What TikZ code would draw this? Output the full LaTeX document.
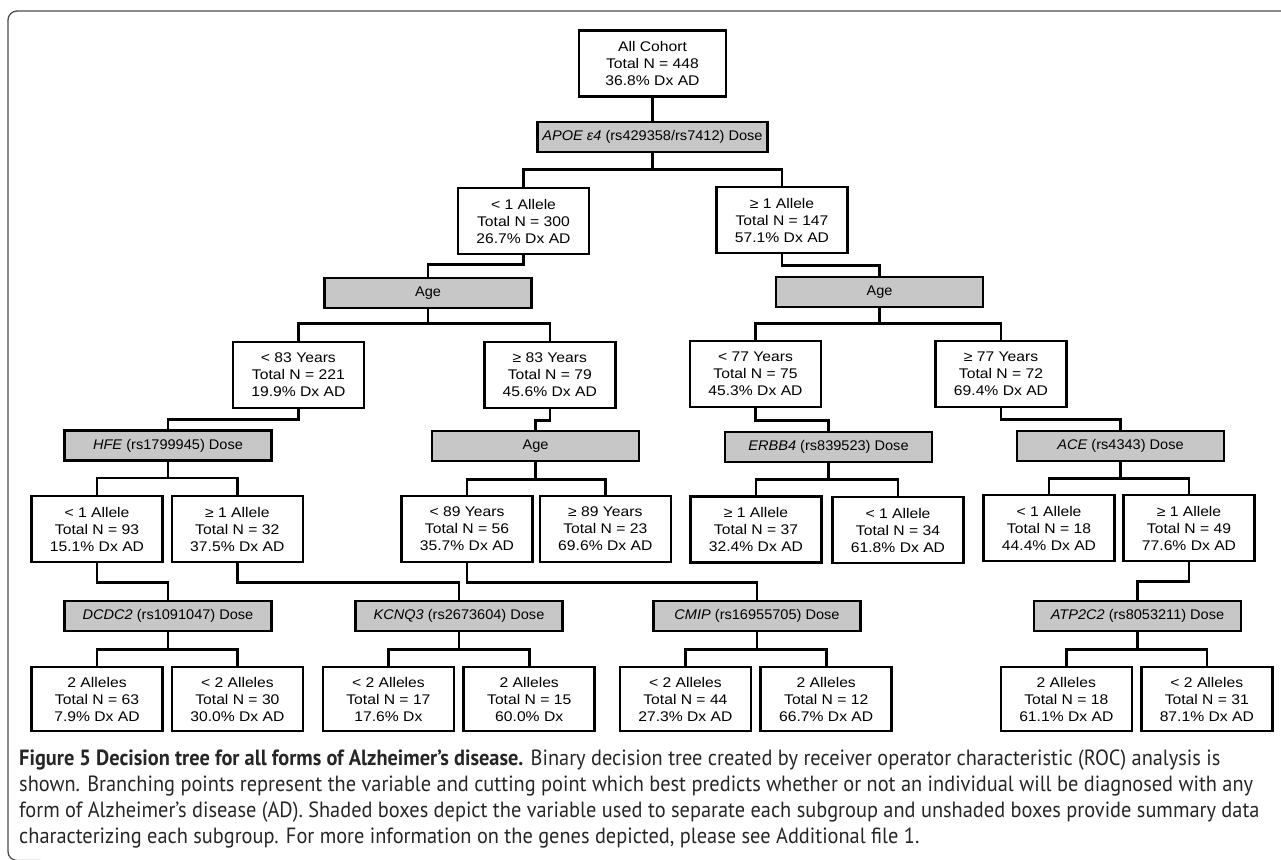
\documentclass[tikz,border=0pt]{standalone}
\usepackage{fontspec}
\setmainfont{Liberation Sans}
\newfontfamily\boxfont[FakeStretch=1.12]{Liberation Sans}
\newfontfamily\splitfont[FakeStretch=1.04]{Liberation Sans}
\newfontfamily\capfont[FakeStretch=0.925]{PT Sans}
\usetikzlibrary{positioning}

\begin{document}
\begin{tikzpicture}[x=1pt, y=-1pt,
  data/.style={draw, line width=2.6pt, minimum width=131pt, minimum height=66pt, inner sep=0pt, align=center, font={\boxfont\fontsize{14}{17}\selectfont}},
  split/.style={draw, line width=2.6pt, fill=black!22, minimum width=207pt, minimum height=30pt, inner sep=0pt, align=center, font={\splitfont\fontsize{14}{16}\selectfont}},
  link/.style={line width=2.6pt}]
  \useasboundingbox (0,0) rectangle (1281,859);
  \draw[line width=1.3pt, black!70, rounded corners=9pt] (1290,11) -- (8,11) -- (8,860.5) -- (40,860.5);

  \node[data, minimum width=147pt] (all)  at (652.5,63.5) {All Cohort\\Total N = 448\\36.8\% Dx AD};
  \node[split, minimum width=230pt] (apoe) at (652.5,137) {\textit{APOE ε4} (rs429358/rs7412) Dose};
  \node[data] (apoe lt) at (523.5,221) {< 1 Allele\\Total N = 300\\26.7\% Dx AD};
  \node[data] (apoe ge) at (782,220)   {≥ 1 Allele\\Total N = 147\\57.1\% Dx AD};

  \node[split] (age lt) at (428,293)   {Age};
  \node[split] (age ge) at (879.5,292) {Age};
  \node[data] (lt83) at (298.4,375) {< 83 Years\\Total N = 221\\19.9\% Dx AD};
  \node[data] (ge83) at (549.8,375) {≥ 83 Years\\Total N = 79\\45.6\% Dx AD};
  \node[data] (lt77) at (755.5,374) {< 77 Years\\Total N = 75\\45.3\% Dx AD};
  \node[data] (ge77) at (1001,374)  {≥ 77 Years\\Total N = 72\\69.4\% Dx AD};

  \node[split] (hfe)     at (168,445.5)  {\textit{HFE} (rs1799945) Dose};
  \node[split] (age old) at (535.5,446)  {Age};
  \node[split] (erbb4)   at (828.5,447)  {\textit{ERBB4} (rs839523) Dose};
  \node[split] (ace)     at (1120.5,446) {\textit{ACE} (rs4343) Dose};
  \node[data] (hfe lt)   at (97,529)    {< 1 Allele\\Total N = 93\\15.1\% Dx AD};
  \node[data] (hfe ge)   at (237.3,529) {≥ 1 Allele\\Total N = 32\\37.5\% Dx AD};
  \node[data] (lt89)     at (467,529)   {< 89 Years\\Total N = 56\\35.7\% Dx AD};
  \node[data] (ge89)     at (605.3,529) {≥ 89 Years\\Total N = 23\\69.6\% Dx AD};
  \node[data] (erbb4 ge) at (756,529.5) {≥ 1 Allele\\Total N = 37\\32.4\% Dx AD};
  \node[data] (erbb4 lt) at (898,530)   {< 1 Allele\\Total N = 34\\61.8\% Dx AD};
  \node[data] (ace lt)   at (1049,528)  {< 1 Allele\\Total N = 18\\44.4\% Dx AD};
  \node[data] (ace ge)   at (1189,528)  {≥ 1 Allele\\Total N = 49\\77.6\% Dx AD};

  \node[split] (dcdc2)  at (168,616)    {\textit{DCDC2} (rs1091047) Dose};
  \node[split] (kcnq3)  at (459,616)    {\textit{KCNQ3} (rs2673604) Dose};
  \node[split] (cmip)   at (757,616)    {\textit{CMIP} (rs16955705) Dose};
  \node[split] (atp2c2) at (1137.5,616) {\textit{ATP2C2} (rs8053211) Dose};
  \node[data, minimum height=64pt] (dcdc2 2)   at (97,699)     {2 Alleles\\Total N = 63\\7.9\% Dx AD};
  \node[data, minimum height=64pt] (dcdc2 lt)  at (237.4,699)  {< 2 Alleles\\Total N = 30\\30.0\% Dx AD};
  \node[data, minimum height=64pt] (kcnq3 lt)  at (388.4,699)  {< 2 Alleles\\Total N = 17\\17.6\% Dx};
  \node[data, minimum height=64pt] (kcnq3 2)   at (529.2,699)  {2 Alleles\\Total N = 15\\60.0\% Dx};
  \node[data, minimum height=64pt] (cmip lt)   at (685.4,699)  {< 2 Alleles\\Total N = 44\\27.3\% Dx AD};
  \node[data, minimum height=64pt] (cmip 2)    at (826.2,699)  {2 Alleles\\Total N = 12\\66.7\% Dx AD};
  \node[data, minimum height=64pt] (atp2c2 2)  at (1066.3,699) {2 Alleles\\Total N = 18\\61.1\% Dx AD};
  \node[data, minimum height=64pt] (atp2c2 lt) at (1206.8,699) {< 2 Alleles\\Total N = 31\\87.1\% Dx AD};

  \draw[link] (all) -- (apoe);
  \draw[link] (apoe.south) -- ++(0,16) -| (apoe lt.north);
  \draw[link] (apoe.south) -- ++(0,16) -| (apoe ge.north);
  \draw[link] (apoe lt.south) -- ++(0,9) -| (age lt.north);
  \draw[link] (apoe ge.south) -- ++(0,11) -| (age ge.north);
  \draw[link] (age lt.south) -- ++(0,14) -| (lt83.north);
  \draw[link] (age lt.south) -- ++(0,14) -| (ge83.north);
  \draw[link] (age ge.south) -- ++(0,15) -| (lt77.north);
  \draw[link] (age ge.south) -- ++(0,15) -| (ge77.north);
  \draw[link] (lt83.south) -- ++(0,10) -| (hfe.north);
  \draw[link] (ge83.south) -- ++(0,11) -| (age old.north);
  \draw[link] (lt77.south) -- ++(0,12) -| (erbb4.north);
  \draw[link] (ge77.south) -- ++(0,11) -| (ace.north);
  \draw[link] (hfe.south) -- ++(0,16) -| (hfe lt.north);
  \draw[link] (hfe.south) -- ++(0,16) -| (hfe ge.north);
  \draw[link] (age old.south) -- ++(0,17) -| (lt89.north);
  \draw[link] (age old.south) -- ++(0,17) -| (ge89.north);
  \draw[link] (erbb4.south) -- ++(0,16) -| (erbb4 ge.north);
  \draw[link] (erbb4.south) -- ++(0,16) -| (erbb4 lt.north);
  \draw[link] (ace.south) -- ++(0,16) -| (ace lt.north);
  \draw[link] (ace.south) -- ++(0,16) -| (ace ge.north);
  \draw[link] (hfe lt.south) -- ++(0,19) -| (dcdc2.north);
  \draw[link] (hfe ge.south) -- ++(0,19) -| (kcnq3.north);
  \draw[link] (lt89.south) -- ++(0,19) -| (cmip.north);
  \draw[link] (ace ge.south) -- ++(0,19) -| (atp2c2.north);
  \draw[link] (dcdc2.south) -- ++(0,17) -| (dcdc2 2.north);
  \draw[link] (dcdc2.south) -- ++(0,17) -| (dcdc2 lt.north);
  \draw[link] (kcnq3.south) -- ++(0,17) -| (kcnq3 lt.north);
  \draw[link] (kcnq3.south) -- ++(0,17) -| (kcnq3 2.north);
  \draw[link] (cmip.south) -- ++(0,17) -| (cmip lt.north);
  \draw[link] (cmip.south) -- ++(0,17) -| (cmip 2.north);
  \draw[link] (atp2c2.south) -- ++(0,17) -| (atp2c2 2.north);
  \draw[link] (atp2c2.south) -- ++(0,17) -| (atp2c2 lt.north);

  \node[anchor=north west, align=left, inner sep=0pt, text=black!85, font={\capfont\fontsize{22}{26}\selectfont}] (caption) at (19,750)
    {\textbf{Figure 5 Decision tree for all forms of Alzheimer’s disease.} Binary decision tree created by receiver operator characteristic (ROC) analysis is\\
     shown. Branching points represent the variable and cutting point which best predicts whether or not an individual will be diagnosed with any\\
     form of Alzheimer’s disease (AD). Shaded boxes depict the variable used to separate each subgroup and unshaded boxes provide summary data\\
     characterizing each subgroup. For more information on the genes depicted, please see Additional file 1.};
\end{tikzpicture}
\end{document}
